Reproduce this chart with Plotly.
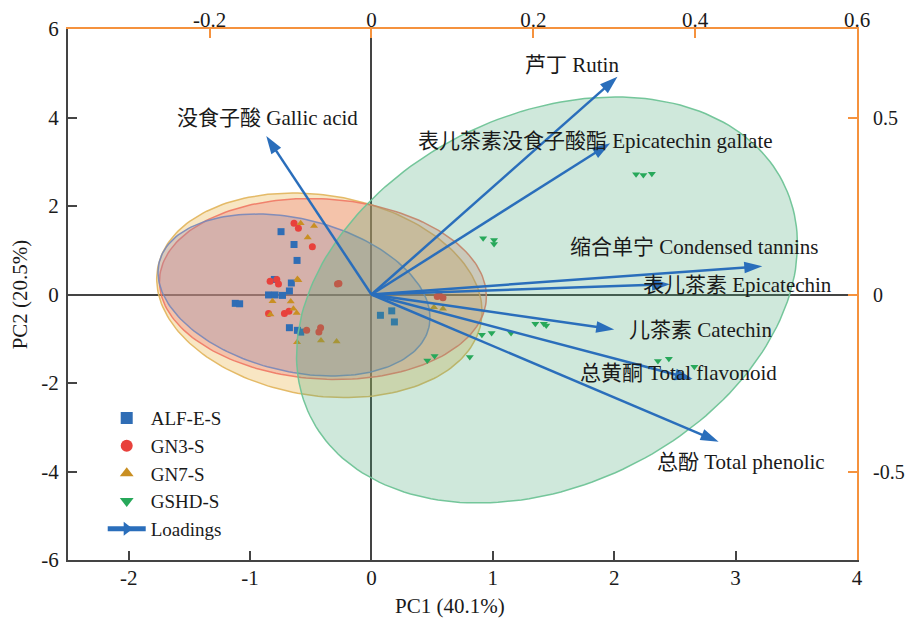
import numpy as np
import plotly.graph_objects as go

# ---------------- data ----------------
groups = ["ALF-E-S", "GN3-S", "GN7-S", "GSHD-S"]

alf_x = [-0.745, -0.638, -0.613, -0.80, -0.66, -0.676, -0.848, -0.794, -0.733, -1.122, -1.086,
         -0.676, -0.61, -0.583, 0.074, 0.167, 0.189]
alf_y = [1.42, 1.13, 0.77, 0.34, 0.26, 0.08, -0.01, -0.01, -0.02, -0.20, -0.21,
         -0.75, -0.81, -0.85, -0.47, -0.37, -0.62]

gn3_x = [-0.638, -0.602, -0.487, -0.835, -0.78, -0.766, -0.28, -0.268, -0.848, -0.717, -0.68,
         -0.534, -0.433, -0.419, 0.542, 0.589, 0.56]
gn3_y = [1.61, 1.50, 1.08, 0.30, 0.34, 0.24, 0.24, 0.25, -0.43, -0.43, -0.38,
         -0.81, -0.85, -0.75, -0.045, -0.075, -0.02]

gn7_x = [-0.583, -0.473, -0.525, -0.61, -0.602, -0.815, -0.665, -0.643, -0.616, -0.832,
         -0.613, -0.416, -0.287, 0.515, 0.589]
gn7_y = [1.61, 1.55, 1.29, 0.35, 0.32, -0.15, -0.16, -0.32, -0.42, -0.45,
         -1.08, -1.04, -1.06, -0.29, -0.32]

gshd_x = [2.18, 2.24, 2.31, 0.92, 1.01, 1.01, 1.35, 1.42, 1.44, 0.91, 0.99, 1.15,
          0.46, 0.52, 0.81, 2.36, 2.45, 2.66]
gshd_y = [2.72, 2.70, 2.73, 1.27, 1.23, 1.14, -0.66, -0.66, -0.70, -0.91, -0.87, -0.87,
          -1.49, -1.39, -1.41, -1.50, -1.45, -1.63]

# confidence ellipses: centre and covariance (PC1, PC2 units)
ell_cx = [-0.638, -0.40, -0.429, 1.446]
ell_cy = [-0.011, 0.124, -0.018, -0.124]
ell_sxx = [1.255, 1.814, 1.796, 4.258]
ell_syy = [3.351, 4.183, 5.345, 21.05]
ell_sxy = [-0.573, -0.223, -0.493, 2.588]

# loadings (top / right axes)
load_names = ["没食子酸 Gallic acid", "芦丁 Rutin", "表儿茶素没食子酸酯 Epicatechin gallate",
              "缩合单宁 Condensed tannins", "表儿茶素 Epicatechin", "儿茶素 Catechin",
              "总黄酮 Total flavonoid", "总酚 Total phenolic"]
load_x = [-0.130, 0.304, 0.295, 0.483, 0.369, 0.300, 0.397, 0.429]
load_y = [0.448, 0.615, 0.427, 0.080, 0.029, -0.099, -0.239, -0.416]

x_ticks = [-2, -1, 0, 1, 2, 3, 4]
x_ticktext = ["-2", "-1", "0", "1", "2", "3", "4"]
y_ticks = [-6, -4, -2, 0, 2, 4, 6]
y_ticktext = ["-6", "-4", "-2", "0", "2", "4", "6"]
x2_ticks = [-0.2, 0, 0.2, 0.4, 0.6]
x2_ticktext = ["-0.2", "0", "0.2", "0.4", "0.6"]
y2_ticks = [-0.5, 0, 0.5]
y2_ticktext = ["-0.5", "0", "0.5"]

# ---------------- styles ----------------
FONT = "Liberation Serif, 'Noto Sans CJK SC', serif"
ORANGE = "#f5923e"
AX = "#444444"
ARROW = "#2a6ebb"
pt_colors = ["#2f6db5", "#e8413c", "#c98f22", "#27a85a"]
pt_symbols = ["square", "circle", "triangle-up", "triangle-down"]
fill_colors = ["rgba(144,136,177,0.30)", "rgba(235,117,112,0.30)",
               "rgba(232,172,55,0.30)", "rgba(70,165,115,0.26)"]
line_colors = ["rgba(120,135,185,0.9)", "rgba(240,120,100,0.9)",
               "rgba(225,180,90,0.9)", "rgba(110,195,150,0.95)"]
# label positions in PC units (layout only)
lab_px = [-0.857, 1.656, 1.849, 2.661, 3.015, 2.710, 2.529, 3.044]
lab_py = [3.99, 5.19, 3.47, 1.08, 0.215, -0.80, -1.77, -3.78]

fig = go.Figure()

def ellipse(i):
    t = np.linspace(0, 2 * np.pi, 200)
    l11 = np.sqrt(ell_sxx[i])
    l21 = ell_sxy[i] / l11
    l22 = np.sqrt(ell_syy[i] - l21 ** 2)
    ex = ell_cx[i] + l11 * np.cos(t)
    ey = ell_cy[i] + l21 * np.cos(t) + l22 * np.sin(t)
    return go.Scatter(x=ex, y=ey, mode="lines", fill="toself",
                      fillcolor=fill_colors[i], line=dict(color=line_colors[i], width=1.5),
                      hoverinfo="skip", showlegend=False)

xs = [alf_x, gn3_x, gn7_x, gshd_x]
ys = [alf_y, gn3_y, gn7_y, gshd_y]

for i in [2, 1, 0]:
    fig.add_trace(ellipse(i))
for i in [0, 1, 2]:
    fig.add_trace(go.Scatter(x=xs[i], y=ys[i], mode="markers", name=groups[i],
                             marker=dict(symbol=pt_symbols[i], color=pt_colors[i], size=7),
                             legendrank=i + 1))
fig.add_trace(ellipse(3))
fig.add_trace(go.Scatter(x=xs[3], y=ys[3], mode="markers", name=groups[3],
                         marker=dict(symbol=pt_symbols[3], color=pt_colors[3], size=7),
                         legendrank=4))

for k in range(len(load_x)):
    fig.add_trace(go.Scatter(x=[0, load_x[k]], y=[0, load_y[k]], xaxis="x2", yaxis="y2",
                             mode="lines+markers",
                             line=dict(color=ARROW, width=2.5),
                             marker=dict(symbol="arrow", size=19, color=ARROW, angleref="previous"),
                             showlegend=False, hoverinfo="skip"))
fig.add_trace(go.Scatter(x=[None], y=[None], xaxis="x2", yaxis="y2", mode="lines+markers",
                         name="Loadings", line=dict(color=ARROW, width=2.5),
                         marker=dict(symbol="triangle-right", size=12, color=ARROW),
                         legendrank=5))

annotations = []
for k in range(len(load_names)):
    annotations.append(dict(x=lab_px[k], y=lab_py[k], xref="x", yref="y", text=load_names[k],
                            showarrow=False, xanchor="center", yanchor="middle",
                            font=dict(family=FONT, size=21, color="#1a1a1a")))
annotations.append(dict(x=0.484, y=-0.087, xref="paper", yref="paper", text="PC1 (40.1%)",
                        showarrow=False, xanchor="center", yanchor="middle",
                        font=dict(family=FONT, size=21, color="#1a1a1a")))
annotations.append(dict(x=-0.061, y=0.5, xref="paper", yref="paper", text="PC2 (20.5%)",
                        textangle=-90, showarrow=False, xanchor="center", yanchor="middle",
                        font=dict(family=FONT, size=21, color="#1a1a1a")))

tickfont = dict(family=FONT, size=21, color="#1a1a1a")
fig.update_layout(
    width=905, height=618,
    margin=dict(l=68, r=48, t=29, b=58, autoexpand=False),
    paper_bgcolor="white", plot_bgcolor="white",
    font=dict(family=FONT, size=20, color="#1a1a1a"),
    xaxis=dict(range=[-2.5, 4], tickvals=x_ticks, ticktext=x_ticktext, ticks="inside",
               ticklen=9, tickwidth=2, automargin=False,
               tickcolor=AX, showline=True, linecolor=AX, linewidth=2, showgrid=False,
               zeroline=True, zerolinecolor=AX, zerolinewidth=2, tickfont=tickfont,
               ticklabelstandoff=-2, layer="above traces"),
    yaxis=dict(range=[-6, 6], tickvals=y_ticks, ticktext=y_ticktext, ticks="inside",
               ticklen=9, tickwidth=2, automargin=False,
               tickcolor=AX, showline=True, linecolor=AX, linewidth=2, showgrid=False,
               zeroline=True, zerolinecolor=AX, zerolinewidth=2, tickfont=tickfont,
               ticklabelstandoff=3, layer="above traces"),
    xaxis2=dict(range=[-0.375, 0.6], overlaying="x", side="top", tickvals=x2_ticks,
                ticktext=x2_ticktext, automargin=False,
                ticks="inside", ticklen=9, tickwidth=2, tickcolor=ORANGE, showline=True,
                linecolor=ORANGE, linewidth=2, showgrid=False, zeroline=False,
                tickfont=tickfont, ticklabelstandoff=-8),
    yaxis2=dict(range=[-0.75, 0.75], overlaying="y", side="right", tickvals=y2_ticks,
                ticktext=y2_ticktext, automargin=False,
                ticks="inside", ticklen=9, tickwidth=2, tickcolor=ORANGE, showline=True,
                linecolor=ORANGE, linewidth=2, showgrid=False, zeroline=False,
                tickfont=dict(family=FONT, size=20, color="#1a1a1a"), ticklabelstandoff=10),
    legend=dict(x=0.044, y=0.303, xanchor="left", yanchor="top", bgcolor="rgba(0,0,0,0)",
                font=dict(family=FONT, size=19, color="#1a1a1a"), itemsizing="constant",
                itemwidth=38, tracegroupgap=0),
    annotations=annotations,
    showlegend=True,
)

fig.write_html("out.html")
